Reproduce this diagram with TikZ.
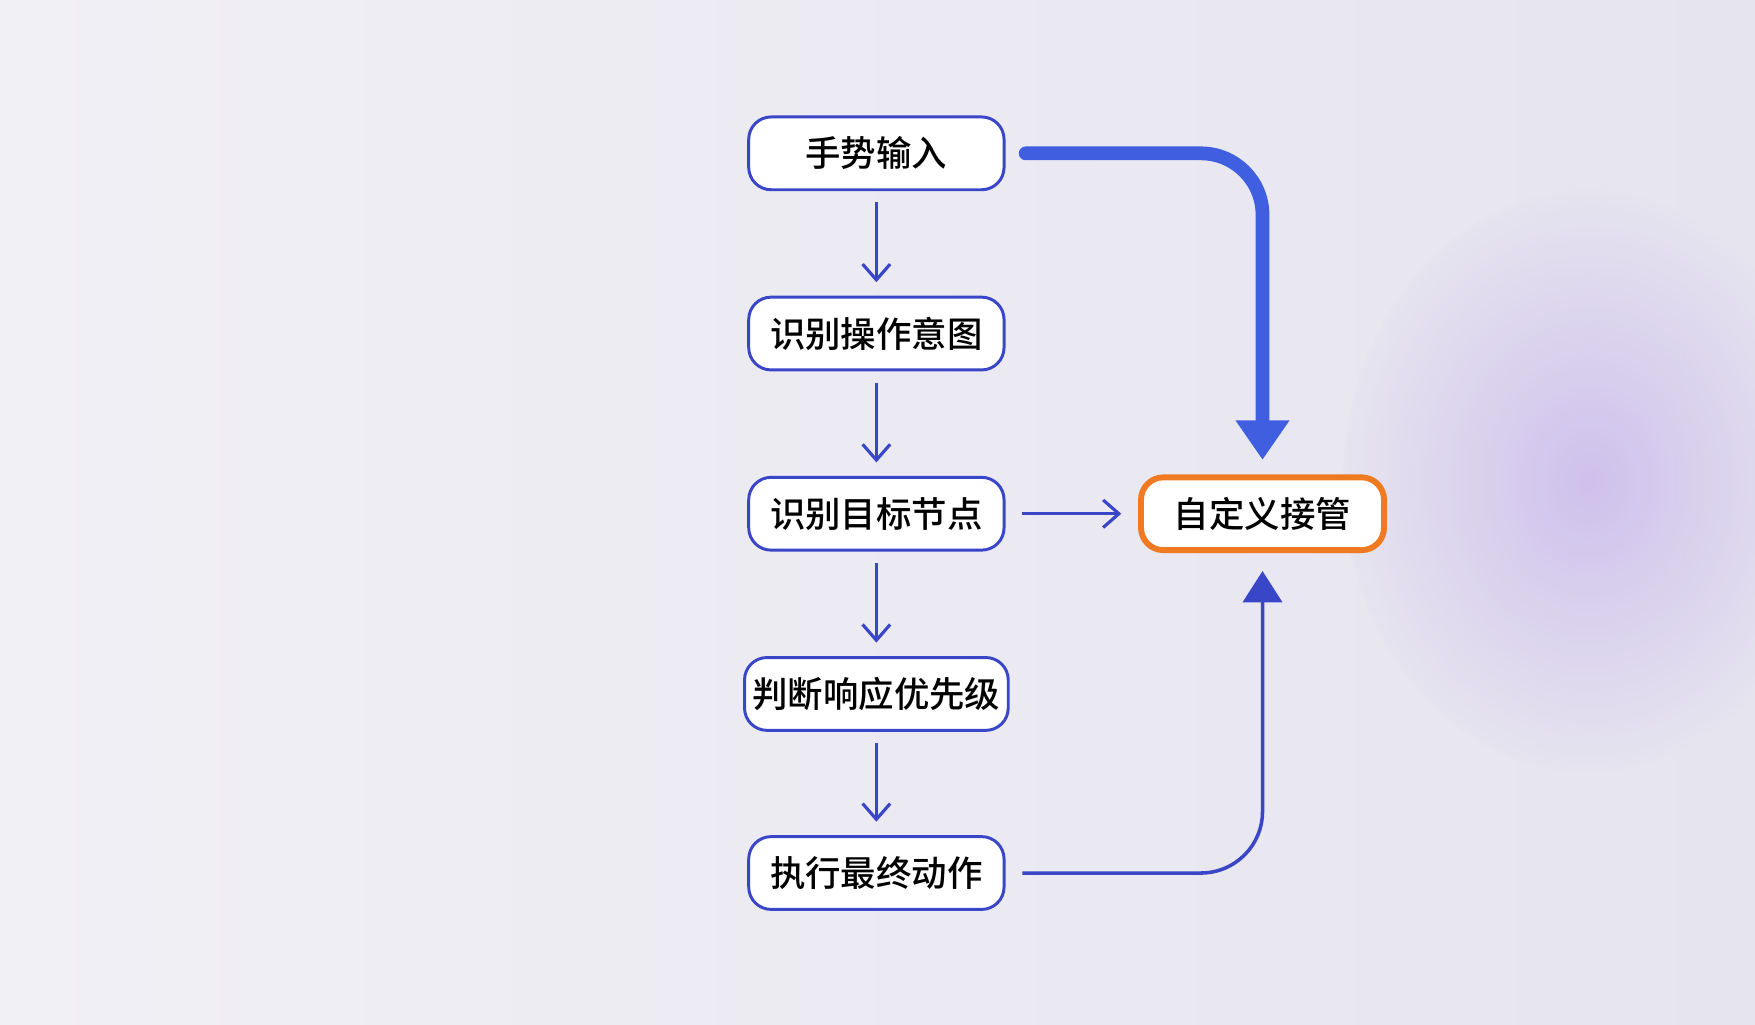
\documentclass[tikz,border=0pt]{standalone}
\usepackage{fontspec}
\setmainfont{Noto Sans CJK SC Medium}
\usetikzlibrary{arrows.meta}
\definecolor{bl}{HTML}{3A46C8}
\definecolor{bthick}{HTML}{3F5FE0}
\definecolor{org}{HTML}{F07A22}
\definecolor{bgc}{HTML}{E6E4EF}
\definecolor{bgl}{HTML}{F1F0F5}
\definecolor{lav}{HTML}{C9B8EC}
\begin{document}
\begin{tikzpicture}[x=0.01cm,y=-0.01cm,
  box/.style={draw=bl,line width=0.75pt,rounded corners=0.2cm,fill=white,minimum height=0.65cm,font=\fontsize{9}{11}\selectfont,text=black},
  flow/.style={draw=bl,line width=0.8pt,-{Straight Barb[length=4pt,width=7pt]}}]
\useasboundingbox (0,0) rectangle (1568,915);
\shade[left color=bgl,right color=bgc] (0,0) rectangle (1568,915);
\shade[inner color=lav,outer color=bgc,opacity=0.8] (1420,430) ellipse (220 and 260);
\node[box,minimum width=2.28cm] (a) at (783,137) {手势输入};
\node[box,minimum width=2.28cm] (b) at (783,298) {识别操作意图};
\node[box,minimum width=2.28cm] (c) at (783,459) {识别目标节点};
\node[box,minimum width=2.34cm,inner xsep=2pt] (d) at (783,620) {判断响应优先级};
\node[box,minimum width=2.28cm] (e) at (783,780) {执行最终动作};
\node[box,draw=org,line width=1.5pt,minimum width=2.17cm] (f) at (1128,459) {自定义接管};
\draw[flow] ([yshift=-0.1cm]a.south) -- ([yshift=0.12cm]b.north);
\draw[flow] ([yshift=-0.1cm]b.south) -- ([yshift=0.12cm]c.north);
\draw[flow] ([yshift=-0.1cm]c.south) -- ([yshift=0.12cm]d.north);
\draw[flow] ([yshift=-0.1cm]d.south) -- ([yshift=0.12cm]e.north);
\draw[flow] ([xshift=0.15cm]c.east) -- ([xshift=-0.15cm]f.west);
\coordinate (t1) at (1128,137);
\coordinate (t2) at (1128,780);
\draw[bthick,line width=3.5pt,line cap=round,rounded corners=0.55cm,-{Triangle[length=10pt,width=13pt]}]
  ([xshift=0.18cm]a.east) -- (t1) -- ([yshift=0.13cm]f.north);
\draw[bl,line width=0.9pt,rounded corners=0.55cm,-{Triangle[length=8pt,width=10pt]}]
  ([xshift=0.15cm]e.east) -- (t2) -- ([yshift=-0.16cm]f.south);
\end{tikzpicture}
\end{document}
